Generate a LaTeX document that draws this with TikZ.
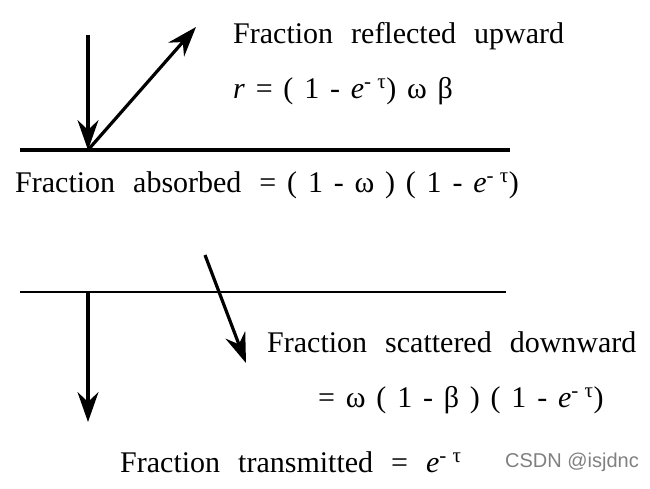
\documentclass[tikz,border=0pt]{standalone}
\usepackage{fontspec}
\setmainfont{Liberation Serif}
\newfontfamily\capserif{Liberation Serif}
\newfontfamily\marksans{Liberation Sans}
\usetikzlibrary{arrows.meta, positioning}
\newcommand{\etau}{\textit{e}\textsuperscript{-\kern0.3em τ}}
\newcommand{\eqspace}{\spaceskip=0.36em plus 0.05em\relax}
\newcommand{\capfont}{\capserif\fontsize{30}{34}\selectfont\spaceskip=0.6em plus 0.1em\relax}
\newcommand{\eqfont}{\capserif\fontsize{30}{34}\selectfont\eqspace}

\begin{document}
\begin{tikzpicture}[x=1pt, y=-1pt,
  surface/.style={line width=3.4pt},
  ray/.style={line width=3.2pt, -{Stealth[length=30pt, width=21pt, inset=10pt]}},
  caption/.style={anchor=base west, inner sep=0pt, font=\capfont},
  formula/.style={anchor=base west, inner sep=0pt, font=\eqfont}
]
\useasboundingbox (0,0) rectangle (650,488);

% layer boundaries
\coordinate (topL) at (20,150);
\coordinate (topR) at (510,150);
\coordinate (botL) at (20,292);
\coordinate (botR) at (506,292);
\draw[surface] (topL) -- (topR);
\draw[surface, line width=2.8pt] (botL) -- (botR);

% rays
\coordinate (inc) at (88,35);
\coordinate (hit) at (88,150);
\coordinate (refl) at (196,27);
\coordinate (scatA) at (205,255);
\coordinate (scatB) at (246,363);
\coordinate (trA) at (88,292);
\coordinate (trB) at (88,422);
\draw[ray] (inc) -- (hit);
\draw[ray] (hit) -- (refl);
\draw[ray] (scatA) -- (scatB);
\draw[ray] (trA) -- (trB);

% labels
\node[caption] (refltxt) at (233,43) {Fraction reflected upward};
\node[formula] (refleq) at (233,98) {\textit{r} = ( 1 - \etau) ω β};
\node[caption] (abstxt) at (15,192) {Fraction absorbed {\eqspace = ( 1 - ω ) ( 1 - \etau)}};
\node[caption] (scattxt) at (267,352) {Fraction scattered downward};
\node[formula] (scateq) at (318,407) {= ω ( 1 - β ) ( 1 - \etau)};
\node[caption] (trtxt) at (120,472) {Fraction transmitted = \etau};
\node[anchor=base west, inner sep=0pt, text=gray, font=\marksans\fontsize{20}{24}\selectfont] (mark) at (505,467) {CSDN @isjdnc};
\end{tikzpicture}
\end{document}
